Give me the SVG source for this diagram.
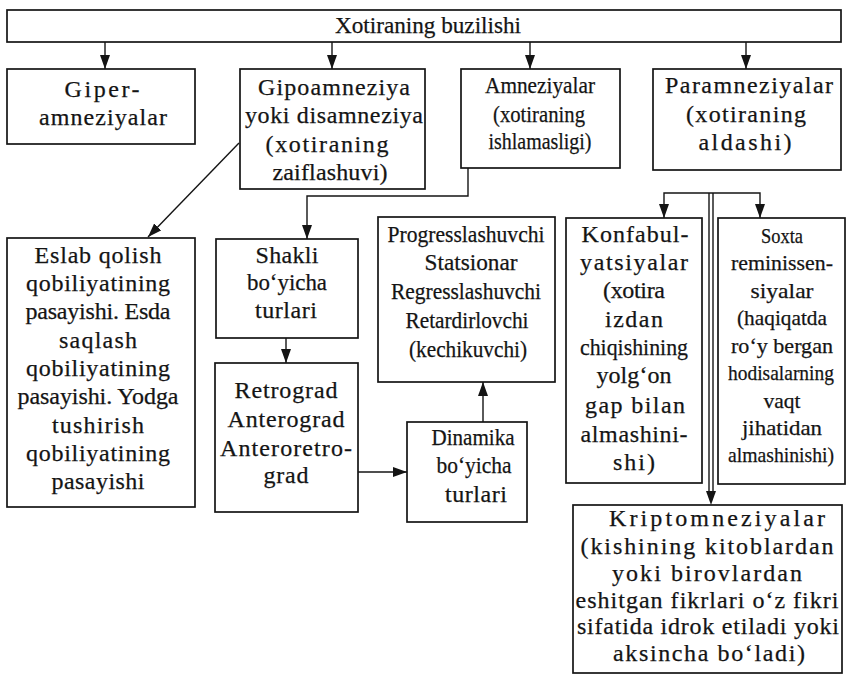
<svg xmlns="http://www.w3.org/2000/svg" width="848" height="674" viewBox="0 0 848 674">
<style>
.box{fill:#fff;stroke:#141414;stroke-width:1.7}
.t{font-family:"Liberation Serif","Times New Roman",serif;font-size:24px;text-anchor:middle;fill:#141414;stroke:#141414;stroke-width:0.25}
.s{font-size:22px}
.ln{stroke:#141414;stroke-width:1.4;fill:none}
</style>
<defs>
<marker id="ah" markerUnits="userSpaceOnUse" markerWidth="14" markerHeight="10" refX="14" refY="5" orient="auto">
<path d="M0,0 L14,5 L0,10 z" fill="#141414"/>
</marker>
</defs>
<rect width="848" height="674" fill="#fff"/>

<g id="connectors">
<path class="ln" d="M105,42 V69" marker-end="url(#ah)"/>
<path class="ln" d="M332,42 V69" marker-end="url(#ah)"/>
<path class="ln" d="M530,42 V69" marker-end="url(#ah)"/>
<path class="ln" d="M746,42 V69" marker-end="url(#ah)"/>
<path class="ln" d="M239,143 L148,237" marker-end="url(#ah)"/>
<path class="ln" d="M468,168 V196 H307 V239" marker-end="url(#ah)"/>
<path class="ln" d="M286,338 V363" marker-end="url(#ah)"/>
<path class="ln" d="M358,472 H407" marker-end="url(#ah)"/>
<path class="ln" d="M483,422 V382" marker-end="url(#ah)"/>
<path class="ln" d="M711,193 H664 V218" marker-end="url(#ah)"/>
<path class="ln" d="M711,193 H760 V218" marker-end="url(#ah)"/>
<path class="ln" d="M709,193 V492"/>
<path class="ln" d="M713,193 V492"/>
<path d="M711,490 V505" stroke="none" fill="none" marker-end="url(#ah)"/>
</g>

<g id="n-root">
<rect class="box" x="7" y="10" width="834" height="32"/>
<text class="t" x="428" y="33" textLength="186" lengthAdjust="spacingAndGlyphs">Xotiraning buzilishi</text>
</g>

<g id="n-giper">
<rect class="box" x="7" y="69" width="188" height="75"/>
<text class="t" x="102" y="97" textLength="75" lengthAdjust="spacing">Giper-</text>
<text class="t" x="103" y="125" textLength="128" lengthAdjust="spacing">amneziyalar</text>
</g>

<g id="n-gipo">
<rect class="box" x="240" y="69" width="185" height="120"/>
<text class="t" x="334" y="95" textLength="152" lengthAdjust="spacing">Gipoamneziya</text>
<text class="t" x="334" y="123" textLength="178" lengthAdjust="spacing">yoki disamneziya</text>
<text class="t" x="327" y="152" textLength="123" lengthAdjust="spacing">(xotiraning</text>
<text class="t" x="330" y="180" textLength="115" lengthAdjust="spacing">zaiflashuvi)</text>
</g>

<g id="n-amnez">
<rect class="box" x="461" y="69" width="159" height="99"/>
<text class="t" x="540" y="93" textLength="110" lengthAdjust="spacingAndGlyphs">Amneziyalar</text>
<text class="t" x="539" y="122" textLength="92" lengthAdjust="spacingAndGlyphs">(xotiraning</text>
<text class="t" x="540" y="149" textLength="103" lengthAdjust="spacingAndGlyphs">ishlamasligi)</text>
</g>

<g id="n-param">
<rect class="box" x="653" y="69" width="188" height="101"/>
<text class="t" x="749" y="93" textLength="168" lengthAdjust="spacing">Paramneziyalar</text>
<text class="t" x="746" y="122" textLength="120" lengthAdjust="spacing">(xotiraning</text>
<text class="t" x="745" y="150" textLength="93" lengthAdjust="spacing">aldashi)</text>
</g>

<g id="n-eslab">
<rect class="box" x="7" y="238" width="188" height="269"/>
<text class="t" x="98" y="263" textLength="127" lengthAdjust="spacing">Eslab qolish</text>
<text class="t" x="98" y="291" textLength="144" lengthAdjust="spacing">qobiliyatining</text>
<text class="t" x="98" y="319" textLength="145" lengthAdjust="spacing">pasayishi. Esda</text>
<text class="t" x="98" y="348" textLength="78" lengthAdjust="spacing">saqlash</text>
<text class="t" x="98" y="376" textLength="144" lengthAdjust="spacing">qobiliyatining</text>
<text class="t" x="98" y="404" textLength="161" lengthAdjust="spacing">pasayishi. Yodga</text>
<text class="t" x="98" y="433" textLength="92" lengthAdjust="spacing">tushirish</text>
<text class="t" x="98" y="461" textLength="144" lengthAdjust="spacing">qobiliyatining</text>
<text class="t" x="98" y="489" textLength="93" lengthAdjust="spacing">pasayishi</text>
</g>

<g id="n-shakli">
<rect class="box" x="216" y="239" width="142" height="99"/>
<text class="t" x="287" y="263" textLength="63" lengthAdjust="spacing">Shakli</text>
<text class="t" x="287" y="290" textLength="80" lengthAdjust="spacingAndGlyphs">bo‘yicha</text>
<text class="t" x="286" y="318" textLength="62" lengthAdjust="spacing">turlari</text>
</g>

<g id="n-retro">
<rect class="box" x="215" y="363" width="143" height="149"/>
<text class="t" x="286" y="398" textLength="103" lengthAdjust="spacing">Retrograd</text>
<text class="t" x="286" y="427" textLength="117" lengthAdjust="spacing">Anterograd</text>
<text class="t" x="286" y="456" textLength="132" lengthAdjust="spacing">Anteroretro-</text>
<text class="t" x="286" y="483" textLength="45" lengthAdjust="spacing">grad</text>
</g>

<g id="n-progress">
<rect class="box" x="378" y="217" width="177" height="165"/>
<text class="t" x="466" y="242" textLength="157" lengthAdjust="spacingAndGlyphs">Progresslashuvchi</text>
<text class="t" x="471" y="270" textLength="93" lengthAdjust="spacingAndGlyphs">Statsionar</text>
<text class="t" x="466" y="299" textLength="150" lengthAdjust="spacingAndGlyphs">Regresslashuvchi</text>
<text class="t" x="467" y="328" textLength="123" lengthAdjust="spacingAndGlyphs">Retardirlovchi</text>
<text class="t" x="468" y="357" textLength="118" lengthAdjust="spacingAndGlyphs">(kechikuvchi)</text>
</g>

<g id="n-dinamika">
<rect class="box" x="407" y="422" width="120" height="100"/>
<text class="t" x="473" y="445" textLength="83" lengthAdjust="spacingAndGlyphs">Dinamika</text>
<text class="t" x="474" y="473" textLength="75" lengthAdjust="spacingAndGlyphs">bo‘yicha</text>
<text class="t" x="476" y="502" textLength="62" lengthAdjust="spacing">turlari</text>
</g>

<g id="n-konfab">
<rect class="box" x="566" y="218" width="136" height="265"/>
<text class="t" x="635" y="242" textLength="107" lengthAdjust="spacing">Konfabul-</text>
<text class="t" x="634" y="270" textLength="108" lengthAdjust="spacing">yatsiyalar</text>
<text class="t" x="634" y="298" textLength="62" lengthAdjust="spacing">(xotira</text>
<text class="t" x="634" y="327" textLength="58" lengthAdjust="spacing">izdan</text>
<text class="t" x="634" y="355" textLength="108" lengthAdjust="spacingAndGlyphs">chiqishining</text>
<text class="t" x="634" y="383" textLength="75" lengthAdjust="spacing">yolg‘on</text>
<text class="t" x="635" y="413" textLength="100" lengthAdjust="spacing">gap bilan</text>
<text class="t" x="634" y="442" textLength="107" lengthAdjust="spacing">almashini-</text>
<text class="t" x="634" y="470" textLength="42" lengthAdjust="spacing">shi)</text>
</g>

<g id="n-soxta">
<rect class="box" x="718" y="218" width="127" height="266"/>
<text class="t s" x="782" y="243" textLength="42" lengthAdjust="spacingAndGlyphs">Soxta</text>
<text class="t s" x="782" y="270" textLength="102" lengthAdjust="spacingAndGlyphs">reminissen-</text>
<text class="t s" x="782" y="298" textLength="63" lengthAdjust="spacingAndGlyphs">siyalar</text>
<text class="t s" x="782" y="325" textLength="90" lengthAdjust="spacingAndGlyphs">(haqiqatda</text>
<text class="t s" x="782" y="353" textLength="102" lengthAdjust="spacingAndGlyphs">ro‘y bergan</text>
<text class="t s" x="781" y="380" textLength="106" lengthAdjust="spacingAndGlyphs">hodisalarning</text>
<text class="t s" x="782" y="408" textLength="37" lengthAdjust="spacingAndGlyphs">vaqt</text>
<text class="t s" x="782" y="435" textLength="80" lengthAdjust="spacingAndGlyphs">jihatidan</text>
<text class="t s" x="781" y="462" textLength="106" lengthAdjust="spacingAndGlyphs">almashinishi)</text>
</g>

<g id="n-kripto">
<rect class="box" x="573" y="505" width="269" height="168"/>
<text class="t" x="717" y="526" textLength="216" lengthAdjust="spacing">Kriptomneziyalar</text>
<text class="t" x="707" y="554" textLength="253" lengthAdjust="spacing">(kishining kitoblardan</text>
<text class="t" x="707" y="581" textLength="190" lengthAdjust="spacing">yoki birovlardan</text>
<text class="t" x="707" y="608" textLength="263" lengthAdjust="spacing">eshitgan fikrlari o‘z fikri</text>
<text class="t" x="708" y="634" textLength="262" lengthAdjust="spacing">sifatida idrok etiladi yoki</text>
<text class="t" x="709" y="661" textLength="192" lengthAdjust="spacing">aksincha bo‘ladi)</text>
</g>
</svg>
